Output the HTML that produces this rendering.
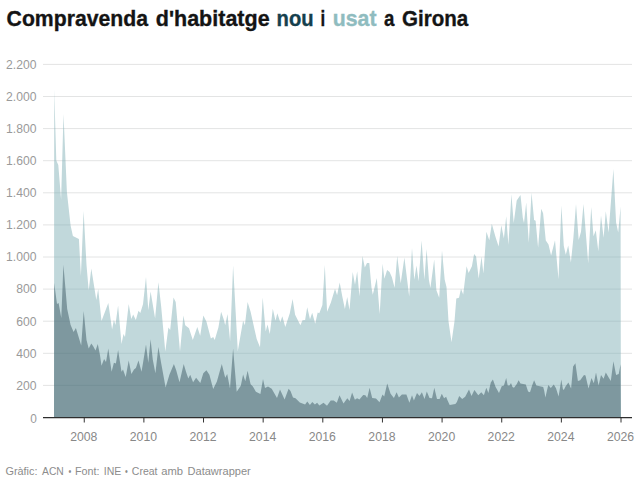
<!DOCTYPE html>
<html><head><meta charset="utf-8"><title>Compravenda d'habitatge nou i usat a Girona</title>
<style>
html,body{margin:0;padding:0;background:#fff;}
body{width:640px;height:484px;overflow:hidden;font-family:"Liberation Sans",sans-serif;}
svg{display:block;}
text{font-family:"Liberation Sans",sans-serif;}
</style></head><body>
<svg width="640" height="484" viewBox="0 0 640 484">
<rect width="640" height="484" fill="#ffffff"/>

<g font-size="22" font-weight="bold" fill="#141414" stroke="#141414" stroke-width="0.35">
<text x="6.6" y="25.8" textLength="141.4" lengthAdjust="spacingAndGlyphs">Compravenda</text>
<text x="155.8" y="25.8" textLength="113.8" lengthAdjust="spacingAndGlyphs">d'habitatge</text>
<text x="276.6" y="25.8" textLength="37" lengthAdjust="spacingAndGlyphs" fill="#15404d" stroke="#15404d">nou</text>
<text x="320.5" y="25.8" textLength="4.7" lengthAdjust="spacingAndGlyphs">i</text>
<text x="332.8" y="25.8" textLength="43.7" lengthAdjust="spacingAndGlyphs" fill="#8fbcbf" stroke="#8fbcbf">usat</text>
<text x="384" y="25.8" textLength="10.4" lengthAdjust="spacingAndGlyphs">a</text>
<text x="402" y="25.8" textLength="66.2" lengthAdjust="spacingAndGlyphs">Girona</text>
</g>

<g stroke="#e3e4e4" stroke-width="1">
<line x1="43" x2="632" y1="385.4" y2="385.4"/>
<line x1="43" x2="632" y1="353.3" y2="353.3"/>
<line x1="43" x2="632" y1="321.2" y2="321.2"/>
<line x1="43" x2="632" y1="289.1" y2="289.1"/>
<line x1="43" x2="632" y1="257.0" y2="257.0"/>
<line x1="43" x2="632" y1="224.9" y2="224.9"/>
<line x1="43" x2="632" y1="192.8" y2="192.8"/>
<line x1="43" x2="632" y1="160.7" y2="160.7"/>
<line x1="43" x2="632" y1="128.6" y2="128.6"/>
<line x1="43" x2="632" y1="96.5" y2="96.5"/>
<line x1="43" x2="632" y1="64.4" y2="64.4"/>
</g>
<polygon fill="#c1d8db" points="54.0,417.5 54.2,89 56.3,160.5 58.3,165 61.1,199.8 63.5,114 66.9,192 70.6,225.6 72.9,236 78.9,238.9 80.9,276 83.6,211 86.5,265 88.7,290.4 91.3,268.6 96.3,300 98.2,289 101.5,321 108.3,303 112.1,329.6 113.9,319.8 115.4,325 118.1,305.5 121.5,344 123.5,334 125,337 128.7,304 131.3,319 133.2,314.6 135.8,320 138.5,310.8 140.3,313 143,304.2 146,277 148.3,310.2 150.6,291.4 155.1,318.5 158.4,282.3 161.1,305.7 165.3,351.4 168.4,327.5 170.2,330 173.5,297.4 175.7,302 180,351.4 183.4,315.5 185.2,325.3 189,328.3 192.8,340 197.3,327 200.2,335.7 203.3,315.5 206.4,321.6 210.9,338.6 213.2,337 214.7,340 218.4,327.5 221.1,311.8 223.7,319.3 225.2,325.3 227.5,314 230.1,341 233.1,265.5 237.8,351 243.1,320.8 244.9,325.3 247.6,302 250.6,311.8 256.7,339 260,347.3 262.7,297.4 265.7,331.4 267.5,324.6 269.8,334 272.8,308.8 275.5,320.8 277.3,313.3 280.3,322.3 282.3,316.3 285.3,326.9 289.8,313.3 292.6,299 295.1,314.8 300.4,325.3 302.5,320.3 305.1,320 307.2,307.2 310,319.3 312.2,312.8 315.2,323.8 317.7,312.5 319.3,313.2 322.4,305 324.8,265.1 327.1,311.7 330.9,302.6 335,288.8 337.1,295.2 339.7,282.4 342.2,296 344.9,309 347.2,297 349.5,310 352.7,272 355,284.8 357.2,271.2 359.4,296.3 362.5,256.1 364.8,267.4 367,262.9 369.3,262.9 371.5,287.8 372.8,294.8 376.8,278 379.7,314 382.6,263.7 384.4,278.7 387.1,270 389.6,272 391.9,277.2 394.6,287.8 397.2,256.1 400.7,283.3 404.4,257.6 407,278.7 409.2,296.5 412,248 414.3,279.8 416.5,265.4 418.6,281.3 421.6,240.6 424.4,279.8 426.6,248.9 428.9,279.8 430.4,288.1 434.2,259.4 436.4,290.3 439.2,297.8 442,250.4 444.7,279.8 446.5,287 448.5,321.2 451.5,342.3 454.5,321.2 456.3,298.6 459,297.8 461,288.8 463.2,294.5 466.6,266.2 468.6,273 471.9,266.2 474.1,254.1 476.1,256.4 478.7,278.4 481.5,256.5 483.4,273.5 486.4,231.8 489.3,240.2 491.8,223.7 495.6,237.3 498.6,246.5 501.3,225.2 503.9,238.5 506.2,216.2 508.4,244.8 511.4,194.3 513.7,223 516.7,200.4 520.5,195.1 522.8,217.7 524,223 526.2,202.6 528.8,242.8 531.5,192.8 534.1,220 535.6,220.7 538.1,247.7 541.2,208.7 543.1,213.2 545.8,240.5 548.5,244.5 551.1,255.5 555,240.2 558.5,279.3 561.4,205.5 563.8,246 565.8,254.7 568.2,245.5 570.9,262.5 573.4,237.7 576,204 578.7,240 581,231.7 583.5,204 586.2,237.7 588.2,263.3 591.2,207 593.5,236.2 595.8,230.2 598.3,251.3 601,215.4 603.6,237.7 605.8,211.3 608.6,232.4 613.4,169 616.1,222.6 618.2,232.4 620.6,206.4 620.9,417.5"/>
<polygon fill="#7e989f" points="54.0,417.5 54.2,283 57,304 58.6,303 61.3,318 63.4,264.8 67.2,309 70.6,325 73.6,331.9 75.9,328 81.2,345.4 83.7,311 86.5,340 88.7,348.5 91.3,343.5 93.2,346.2 95.5,350.4 97.8,344 100,355.2 101.5,365.8 104.1,359 106,362 108.3,348.5 111.6,371.8 113.9,362.8 115.9,363.5 118.1,350 121.5,371.8 123,369.6 125.7,377 128.7,360.5 131.4,374 134,369.6 135.9,368 138.5,360.5 141.5,371.8 143,363 146,344.6 148.3,362.7 150.6,339.3 152.8,359.7 155.4,373.3 158.4,346.9 161.1,362.7 165.6,387.6 169.4,374.8 173.9,363.9 176.2,370.2 179.5,382.3 183.7,363.9 186,371.8 188.3,378.5 190.2,374.8 193.1,382.3 196.1,377.8 200.3,383.1 203.3,373.3 206.4,370.2 209.4,374.8 213.2,389.1 216.9,381.6 221.8,363.9 225.2,377.8 227.2,374 230,388.5 233.1,348.5 236.7,391.8 240.8,385.8 243.1,374.5 245.3,381.3 247.6,370.7 250.6,384.3 252.9,386.6 255.9,391.8 260.4,394.1 263,379 265,388 268,386.6 271.7,388.8 277,397.9 280,389.6 284.6,399.4 288.6,388.8 290.5,391 293,397.5 295.5,398.3 299.8,402.5 305.1,404.6 307.3,401.6 309.9,405 312.3,402 314.9,404.6 317.1,402.8 319.4,405.5 323.5,402.8 327,405.8 330.7,400.5 333.7,400.5 336.8,402.8 339.5,395.2 343.5,403.5 347.3,398.3 349.6,401 352.1,392.5 354.9,399.8 357.1,398.3 359.4,399.5 363.2,395 365.4,395.2 367.2,398 369.6,387.7 372.2,398 376,398.6 379.5,402.3 382.5,394.5 384.2,396.5 387.2,383.5 390.6,393.7 393.9,398 396.6,392.2 398.9,397.5 401.9,394.5 406.4,394.5 409.4,402.8 412,395.2 413.9,400.5 417,393 419.5,396 421.9,392.2 424.5,399 426.8,391.5 429.5,398 432,398.3 434.3,387.7 437,399 439.6,399 441.8,393.7 444.1,398.3 446.1,396.8 447.6,400.5 449.7,405 455.4,404 456.9,402 459.2,396 462.2,399 465.2,396.8 469,389.5 471.5,396 474.4,390 478.3,395.2 481.3,392.2 483.9,395.2 486.3,387.7 488.4,393 490.8,382.4 492.9,379.4 495.6,387 499,393 501.7,386.2 503.9,385.4 506.2,377.9 507.7,385.4 509.5,385.4 511,382.9 512.5,387 514,387.7 516.8,384 518.6,380.2 520.5,383.5 525.8,384.4 528.1,391.5 530,392.2 532.1,385.4 534.1,380.2 536.4,385.4 543.2,387 544.2,390.7 545.4,397.5 546.9,390.7 548.3,385 550.8,388.1 553.8,384.4 556,388.2 558.6,396.4 561.3,379.4 562.9,389 563.8,390 565.5,386.5 568.4,382.4 571.1,388.5 573.1,366.6 575.4,363.3 577.9,380.9 580.2,380.2 584,374.9 585.5,375.6 588.5,388.5 591.5,377.9 593.8,383.2 596,372.6 598.6,385.4 601,374.9 603.6,378.7 605.8,372.6 608.1,376.4 610.8,380.9 613.4,361.3 616.1,374.9 618.7,374.1 620.6,364.3 620.9,417.5"/>
<clipPath id="ca"><polygon points="54.0,417.5 54.2,89 56.3,160.5 58.3,165 61.1,199.8 63.5,114 66.9,192 70.6,225.6 72.9,236 78.9,238.9 80.9,276 83.6,211 86.5,265 88.7,290.4 91.3,268.6 96.3,300 98.2,289 101.5,321 108.3,303 112.1,329.6 113.9,319.8 115.4,325 118.1,305.5 121.5,344 123.5,334 125,337 128.7,304 131.3,319 133.2,314.6 135.8,320 138.5,310.8 140.3,313 143,304.2 146,277 148.3,310.2 150.6,291.4 155.1,318.5 158.4,282.3 161.1,305.7 165.3,351.4 168.4,327.5 170.2,330 173.5,297.4 175.7,302 180,351.4 183.4,315.5 185.2,325.3 189,328.3 192.8,340 197.3,327 200.2,335.7 203.3,315.5 206.4,321.6 210.9,338.6 213.2,337 214.7,340 218.4,327.5 221.1,311.8 223.7,319.3 225.2,325.3 227.5,314 230.1,341 233.1,265.5 237.8,351 243.1,320.8 244.9,325.3 247.6,302 250.6,311.8 256.7,339 260,347.3 262.7,297.4 265.7,331.4 267.5,324.6 269.8,334 272.8,308.8 275.5,320.8 277.3,313.3 280.3,322.3 282.3,316.3 285.3,326.9 289.8,313.3 292.6,299 295.1,314.8 300.4,325.3 302.5,320.3 305.1,320 307.2,307.2 310,319.3 312.2,312.8 315.2,323.8 317.7,312.5 319.3,313.2 322.4,305 324.8,265.1 327.1,311.7 330.9,302.6 335,288.8 337.1,295.2 339.7,282.4 342.2,296 344.9,309 347.2,297 349.5,310 352.7,272 355,284.8 357.2,271.2 359.4,296.3 362.5,256.1 364.8,267.4 367,262.9 369.3,262.9 371.5,287.8 372.8,294.8 376.8,278 379.7,314 382.6,263.7 384.4,278.7 387.1,270 389.6,272 391.9,277.2 394.6,287.8 397.2,256.1 400.7,283.3 404.4,257.6 407,278.7 409.2,296.5 412,248 414.3,279.8 416.5,265.4 418.6,281.3 421.6,240.6 424.4,279.8 426.6,248.9 428.9,279.8 430.4,288.1 434.2,259.4 436.4,290.3 439.2,297.8 442,250.4 444.7,279.8 446.5,287 448.5,321.2 451.5,342.3 454.5,321.2 456.3,298.6 459,297.8 461,288.8 463.2,294.5 466.6,266.2 468.6,273 471.9,266.2 474.1,254.1 476.1,256.4 478.7,278.4 481.5,256.5 483.4,273.5 486.4,231.8 489.3,240.2 491.8,223.7 495.6,237.3 498.6,246.5 501.3,225.2 503.9,238.5 506.2,216.2 508.4,244.8 511.4,194.3 513.7,223 516.7,200.4 520.5,195.1 522.8,217.7 524,223 526.2,202.6 528.8,242.8 531.5,192.8 534.1,220 535.6,220.7 538.1,247.7 541.2,208.7 543.1,213.2 545.8,240.5 548.5,244.5 551.1,255.5 555,240.2 558.5,279.3 561.4,205.5 563.8,246 565.8,254.7 568.2,245.5 570.9,262.5 573.4,237.7 576,204 578.7,240 581,231.7 583.5,204 586.2,237.7 588.2,263.3 591.2,207 593.5,236.2 595.8,230.2 598.3,251.3 601,215.4 603.6,237.7 605.8,211.3 608.6,232.4 613.4,169 616.1,222.6 618.2,232.4 620.6,206.4 620.9,417.5"/></clipPath>
<g stroke="#3a5a60" stroke-opacity="0.11" stroke-width="1" clip-path="url(#ca)">
<line x1="54" x2="620.9" y1="385.4" y2="385.4"/>
<line x1="54" x2="620.9" y1="353.3" y2="353.3"/>
<line x1="54" x2="620.9" y1="321.2" y2="321.2"/>
<line x1="54" x2="620.9" y1="289.1" y2="289.1"/>
<line x1="54" x2="620.9" y1="257.0" y2="257.0"/>
<line x1="54" x2="620.9" y1="224.9" y2="224.9"/>
<line x1="54" x2="620.9" y1="192.8" y2="192.8"/>
<line x1="54" x2="620.9" y1="160.7" y2="160.7"/>
<line x1="54" x2="620.9" y1="128.6" y2="128.6"/>
<line x1="54" x2="620.9" y1="96.5" y2="96.5"/>
<line x1="54" x2="620.9" y1="64.4" y2="64.4"/>
</g>
<g font-size="12" fill="#9a9a9a">
<text x="30.2" y="422.5" textLength="6.6" lengthAdjust="spacingAndGlyphs">0</text>
<text x="16.3" y="389.7" textLength="20.3" lengthAdjust="spacingAndGlyphs">200</text>
<text x="16.3" y="357.6" textLength="20.3" lengthAdjust="spacingAndGlyphs">400</text>
<text x="16.3" y="325.5" textLength="20.3" lengthAdjust="spacingAndGlyphs">600</text>
<text x="16.3" y="293.4" textLength="20.3" lengthAdjust="spacingAndGlyphs">800</text>
<text x="6" y="261.3" textLength="30.4" lengthAdjust="spacingAndGlyphs">1.000</text>
<text x="6" y="229.2" textLength="30.4" lengthAdjust="spacingAndGlyphs">1.200</text>
<text x="6" y="197.1" textLength="30.4" lengthAdjust="spacingAndGlyphs">1.400</text>
<text x="6" y="165.0" textLength="30.4" lengthAdjust="spacingAndGlyphs">1.600</text>
<text x="6" y="132.9" textLength="30.4" lengthAdjust="spacingAndGlyphs">1.800</text>
<text x="6" y="100.8" textLength="30.4" lengthAdjust="spacingAndGlyphs">2.000</text>
<text x="6" y="68.7" textLength="30.4" lengthAdjust="spacingAndGlyphs">2.200</text>
</g>
<line x1="43" x2="632" y1="417.7" y2="417.7" stroke="#2e2e2e" stroke-width="1.25"/>
<g stroke="#333" stroke-width="1">
<line x1="84.25" x2="84.25" y1="417.5" y2="422.5"/>
<line x1="143.89" x2="143.89" y1="417.5" y2="422.5"/>
<line x1="203.53" x2="203.53" y1="417.5" y2="422.5"/>
<line x1="263.17" x2="263.17" y1="417.5" y2="422.5"/>
<line x1="322.81" x2="322.81" y1="417.5" y2="422.5"/>
<line x1="382.45" x2="382.45" y1="417.5" y2="422.5"/>
<line x1="442.09" x2="442.09" y1="417.5" y2="422.5"/>
<line x1="501.73" x2="501.73" y1="417.5" y2="422.5"/>
<line x1="561.37" x2="561.37" y1="417.5" y2="422.5"/>
<line x1="621.01" x2="621.01" y1="417.5" y2="422.5"/>
</g>
<g font-size="12" fill="#888" text-anchor="middle">
<text x="83.75" y="441" textLength="27.2" lengthAdjust="spacingAndGlyphs">2008</text>
<text x="143.39" y="441" textLength="27.2" lengthAdjust="spacingAndGlyphs">2010</text>
<text x="203.03" y="441" textLength="27.2" lengthAdjust="spacingAndGlyphs">2012</text>
<text x="262.67" y="441" textLength="27.2" lengthAdjust="spacingAndGlyphs">2014</text>
<text x="322.31" y="441" textLength="27.2" lengthAdjust="spacingAndGlyphs">2016</text>
<text x="381.95" y="441" textLength="27.2" lengthAdjust="spacingAndGlyphs">2018</text>
<text x="441.59" y="441" textLength="27.2" lengthAdjust="spacingAndGlyphs">2020</text>
<text x="501.23" y="441" textLength="27.2" lengthAdjust="spacingAndGlyphs">2022</text>
<text x="560.87" y="441" textLength="27.2" lengthAdjust="spacingAndGlyphs">2024</text>
<text x="620.51" y="441" textLength="27.2" lengthAdjust="spacingAndGlyphs">2026</text>
</g>
<g font-size="11" fill="#8c8c8c">
<text x="5.5" y="475.3" textLength="32.0" lengthAdjust="spacingAndGlyphs">Gràfic:</text>
<text x="42" y="475.3" textLength="21.8" lengthAdjust="spacingAndGlyphs">ACN</text>
<text x="68.6" y="475.3" textLength="2.8" lengthAdjust="spacingAndGlyphs">•</text>
<text x="75" y="475.3" textLength="24.5" lengthAdjust="spacingAndGlyphs">Font:</text>
<text x="103.8" y="475.3" textLength="17.5" lengthAdjust="spacingAndGlyphs">INE</text>
<text x="125.1" y="475.3" textLength="2.8" lengthAdjust="spacingAndGlyphs">•</text>
<text x="131.8" y="475.3" textLength="25.7" lengthAdjust="spacingAndGlyphs">Creat</text>
<text x="161.2" y="475.3" textLength="21.8" lengthAdjust="spacingAndGlyphs">amb</text>
<text x="187.5" y="475.3" textLength="63.3" lengthAdjust="spacingAndGlyphs">Datawrapper</text>
</g>
</svg></body></html>
